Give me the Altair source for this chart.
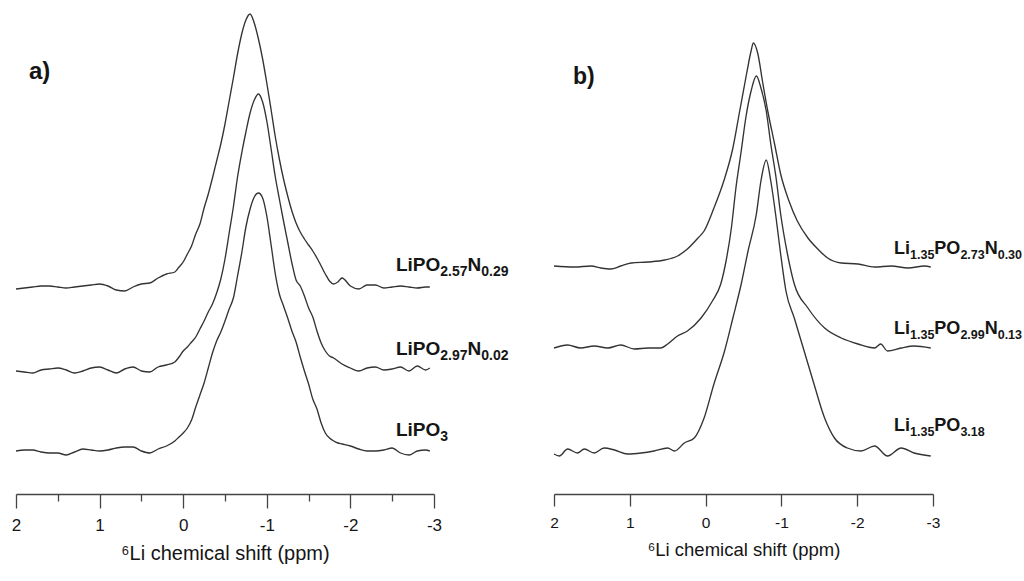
import altair as alt
import pandas as pd

# ---------------- data ----------------
# panel a: common chemical-shift grid (ppm)
A_PPM = [2.0, 1.9, 1.8, 1.7, 1.6, 1.5, 1.4, 1.3, 1.2, 1.1, 1.0, 0.9, 0.8, 0.7, 0.6, 0.5, 0.4, 0.3, 0.2, 0.1, 0.05, 0.0,
         -0.05, -0.1, -0.15, -0.2, -0.25, -0.3, -0.35, -0.4, -0.45, -0.5, -0.55, -0.6, -0.65, -0.7, -0.75, -0.8, -0.85, -0.9, -0.95,
         -1.0, -1.05, -1.1, -1.15, -1.2, -1.25, -1.3, -1.35, -1.4, -1.45, -1.5, -1.55, -1.6, -1.65, -1.7, -1.75, -1.8, -1.85, -1.9,
         -2.0, -2.1, -2.2, -2.3, -2.4, -2.5, -2.6, -2.7, -2.8, -2.9, -2.95]

# signal above each trace's own baseline (a.u.)
A_TOP = [-1, 0, 1, 2, 2, 1, 0, 1, 2, 3, 4, 2, -2, -3, 1, 4, 5, 10, 14, 16, 21, 26,
         34, 42, 54, 64, 80, 94, 110, 127, 144, 164, 187, 210, 234, 254, 268, 274, 265, 249, 229,
         205, 179, 152, 129, 109, 92, 77, 65, 56, 49, 43, 37, 30, 22, 14, 7, 4, 6, 10,
         2, -1, 3, 3, 0, 1, 2, 1, 0, 1, 1]
A_MID = [0, -1, -2, 1, 2, 3, 1, -2, 0, 3, 4, 1, -2, 2, 4, 0, -1, 4, 6, 9, 14, 20,
         24, 29, 34, 42, 50, 59, 67, 78, 92, 112, 138, 164, 194, 218, 239, 258, 271, 277, 269,
         250, 223, 195, 172, 150, 129, 108, 91, 85, 75, 63, 54, 40, 28, 20, 15, 13, 10, 7,
         3, 0, 3, 4, 1, 2, 4, 0, 5, 1, 3]
A_BOT = [0, 1, 1, -1, -2, -2, -4, -1, 2, 1, 0, 1, 3, 4, 4, 0, -2, 2, 5, 10, 14, 18,
         23, 31, 44, 56, 68, 83, 98, 110, 119, 130, 142, 153, 175, 198, 224, 242, 254, 258, 253,
         235, 207, 178, 157, 145, 133, 120, 109, 94, 80, 67, 52, 42, 28, 18, 13, 10, 8, 7,
         5, 2, 0, 0, 1, 3, -2, -4, 0, 1, 0]
A_OFFSET = [206, 123, 43]          # vertical stacking offsets: top, middle, bottom

# panel b: each trace with its own ppm list
B_TOP_PPM = [2.0, 1.73, 1.51, 1.38, 1.25, 1.12, 0.98, 0.76, 0.54, 0.37, 0.24, 0.10, 0.02, -0.11, -0.24, -0.36, -0.45,
             -0.54, -0.60, -0.63, -0.69, -0.75, -0.82, -0.91, -0.99, -1.10, -1.21, -1.35, -1.48, -1.61, -1.79, -2.01,
             -2.23, -2.45, -2.67, -2.89, -2.97]
B_TOP = [0, -1, 0, -2, -3, 0, 3, 4, 6, 10, 17, 28, 35, 58, 85, 118, 155,
         192, 215, 223, 212, 185, 155, 122, 92, 65, 45, 28, 17, 8, 3, 2,
         -1, 0, -2, 0, -1]
B_MID_PPM = [2.0, 1.82, 1.65, 1.47, 1.29, 1.12, 0.94, 0.76, 0.59, 0.50, 0.37, 0.24, 0.06, -0.09, -0.20, -0.27, -0.34,
             -0.40, -0.47, -0.53, -0.60, -0.67, -0.73, -0.80, -0.86, -0.93, -0.99, -1.08, -1.17, -1.35, -1.57, -1.79,
             -2.01, -2.23, -2.31, -2.40, -2.58, -2.75, -2.97]
B_MID = [0, 3, 0, 2, 0, 3, -1, 0, 0, 4, 12, 17, 30, 47, 64, 87, 120,
         160, 197, 230, 257, 272, 260, 237, 204, 170, 134, 94, 64, 40, 20, 10,
         4, 0, 4, -3, 0, 2, 0]
B_BOT_PPM = [2.0, 1.93, 1.82, 1.69, 1.60, 1.47, 1.34, 1.20, 1.03, 0.85, 0.68, 0.50, 0.41, 0.28, 0.15, 0.02, -0.11,
             -0.25, -0.36, -0.47, -0.56, -0.67, -0.73, -0.80, -0.86, -0.93, -0.99, -1.06, -1.17, -1.30, -1.43, -1.57,
             -1.70, -1.87, -2.05, -2.23, -2.40, -2.58, -2.75, -2.97]
B_BOT = [-1, -3, 4, 0, 4, 0, 5, 3, -1, 0, 2, 5, 2, 10, 15, 35, 69,
         102, 135, 169, 202, 239, 272, 293, 272, 235, 199, 162, 135, 102, 69, 35,
         15, 5, 2, 7, -3, 5, 0, -3]
B_OFFSET = [228, 146, 41]

# labels: (text, is_subscript) pieces
A_LABELS = [[("LiPO", False), ("2.57", True), ("N", False), ("0.29", True)],
            [("LiPO", False), ("2.97", True), ("N", False), ("0.02", True)],
            [("LiPO", False), ("3", True)]]
A_LABEL_Y = [223, 139, 58]
A_LABEL_X = -2.545
B_LABELS = [[("Li", False), ("1.35", True), ("PO", False), ("2.73", True), ("N", False), ("0.30", True)],
            [("Li", False), ("1.35", True), ("PO", False), ("2.99", True), ("N", False), ("0.13", True)],
            [("Li", False), ("1.35", True), ("PO", False), ("3.18", True)]]
B_LABEL_Y = [240, 160, 63]
B_LABEL_X = -2.486

TICKS = [2, 1.5, 1, 0.5, 0, -0.5, -1, -1.5, -2, -2.5, -3]
X_TITLE = "\u2076Li chemical shift (ppm)"

# ---------------- styling ----------------
FONT = "Liberation Sans"
LINE = "#333333"
AXC = "#444444"
TXT = "#151515"
H = 488
W_A, W_B = 418, 379

BOLD_W = {"L": .611, "i": .278, "P": .667, "O": .778, "N": .722, ".": .278}
for d in "0123456789":
    BOLD_W[d] = .556


def text_w(s, size):
    return sum(BOLD_W[c] for c in s) * size


def lines_df(ppms, sigs, offs):
    rows = []
    for k, (p, s, o) in enumerate(zip(ppms, sigs, offs)):
        for x, v in zip(p, s):
            rows.append({"ppm": x, "intensity": v + o, "series": k})
    return pd.DataFrame(rows)


def label_df(labels, x0, ys, px_per_ppm, main_size, sub_size):
    rows = []
    for pieces, y in zip(labels, ys):
        cum = 0.0
        for txt, sub in pieces:
            size = sub_size if sub else main_size
            rows.append({"ppm": x0 - cum / px_per_ppm, "intensity": y, "text": txt, "sub": sub})
            cum += text_w(txt, size)
    return pd.DataFrame(rows)


def panel(df, ldf, letter, letter_x, letter_y, width, major, minor, tick_font, title_font,
          main_size, sub_size, letter_size, label_pad, title_pad):
    xs = alt.Scale(domain=[-3, 2], reverse=True, nice=False, zero=False)
    ys = alt.Scale(domain=[0, H], nice=False, zero=False)
    axis = alt.Axis(
        values=TICKS, orient="bottom", grid=False,
        tickSize={"condition": {"test": "datum.value % 1 === 0", "value": major}, "value": minor},
        labelExpr="datum.value % 1 === 0 ? datum.value + '' : ''",
        labelFlush=False, labelOverlap=False,
        labelFont=FONT, labelFontSize=tick_font, labelColor=TXT, labelPadding=label_pad,
        domainColor=AXC, tickColor=AXC, domainWidth=1.3, tickWidth=1.3,
        title=X_TITLE, titleFont=FONT, titleFontSize=title_font, titleFontWeight="normal",
        titleColor=TXT, titlePadding=title_pad)
    lines = alt.Chart(df).mark_line(color=LINE, strokeWidth=1.35, interpolate="monotone").encode(
        x=alt.X("ppm:Q", scale=xs, axis=axis),
        y=alt.Y("intensity:Q", scale=ys, axis=None),
        detail="series:N")
    main = alt.Chart(ldf[~ldf["sub"]]).mark_text(
        align="left", baseline="alphabetic", font=FONT, fontWeight="bold",
        fontSize=main_size, color=TXT).encode(
        x=alt.X("ppm:Q", scale=xs), y=alt.Y("intensity:Q", scale=ys), text="text:N")
    sub = alt.Chart(ldf[ldf["sub"]]).mark_text(
        align="left", baseline="alphabetic", font=FONT, fontWeight="bold",
        fontSize=sub_size, color=TXT, dy=5).encode(
        x=alt.X("ppm:Q", scale=xs), y=alt.Y("intensity:Q", scale=ys), text="text:N")
    let = alt.Chart(pd.DataFrame({"ppm": [letter_x], "intensity": [letter_y], "text": [letter]})).mark_text(
        align="left", baseline="alphabetic", font=FONT, fontWeight="bold",
        fontSize=letter_size, color=TXT).encode(
        x=alt.X("ppm:Q", scale=xs), y=alt.Y("intensity:Q", scale=ys), text="text:N")
    return alt.layer(lines, main, sub, let).properties(width=width, height=H)


df_a = lines_df([A_PPM, A_PPM, A_PPM], [A_TOP, A_MID, A_BOT], A_OFFSET)
df_b = lines_df([B_TOP_PPM, B_MID_PPM, B_BOT_PPM], [B_TOP, B_MID, B_BOT], B_OFFSET)
lab_a = label_df(A_LABELS, A_LABEL_X, A_LABEL_Y, W_A / 5.0, 19, 14)
lab_b = label_df(B_LABELS, B_LABEL_X, B_LABEL_Y, W_B / 5.0, 18, 12.5)

pa = panel(df_a, lab_a, "a)", 1.845, 415, W_A, 14, 7, 17, 20, 19, 14, 24, 9, 10)
pb = panel(df_b, lab_b, "b)", 1.75, 410, W_B, 12, 6, 15.5, 18.5, 18, 12.5, 23, 9, 10)

chart = alt.hconcat(pa, pb, spacing=120, bounds="flush").properties(
    padding={"left": 10, "top": 5, "right": 0, "bottom": 0}
).configure_view(fill="white", stroke="white")

chart.save("out.html", embed_options={"renderer": "svg", "actions": False})
